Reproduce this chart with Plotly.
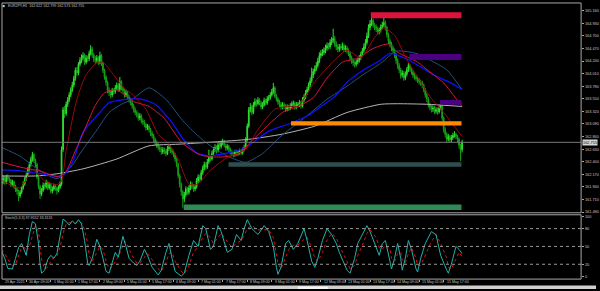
import plotly.graph_objects as go

# ---------------- data ----------------
symbol_text = "EURJPY,H1  162.622 162.799 162.573 162.755"
stoch_text = "Stoch(5,3,3) 37.9552 33.3131"

time_labels = ["29 Apr 2025", "30 Apr 09:00", "1 May 01:00", "1 May 17:00", "2 May 09:00",
               "5 May 01:00", "5 May 17:00", "6 May 09:00", "7 May 01:00", "7 May 17:00",
               "8 May 09:00", "9 May 01:00", "9 May 17:00", "12 May 09:00", "13 May 01:00",
               "13 May 17:00", "14 May 09:00", "15 May 01:00", "15 May 17:00"]
time_label_bars = [0, 16, 32, 48, 64, 80, 96, 112, 128, 144, 160, 176, 192, 208, 224, 240, 256, 272, 288]

price_ticks = [161.480, 161.710, 161.940, 162.170, 162.400, 162.630, 162.860, 163.090, 163.320,
               163.550, 163.780, 164.010, 164.240, 164.470, 164.700, 164.930, 165.160]
stoch_ticks = [0, 20, 50, 80, 100]
stoch_levels = [20, 50, 80]
bid_price = 162.755

first_open = 162.00
closes = [
    162.04, 162.10, 162.02, 162.12, 162.08, 162.06, 161.98, 162.03, 161.95, 161.90,
    161.86, 161.78, 161.84, 161.92, 161.99, 162.08, 162.15, 162.26, 162.35, 162.44,
    162.53, 162.42, 162.35, 162.12, 161.95, 161.81, 161.88, 161.97, 161.94, 162.02,
    161.92, 161.98, 161.86, 161.90, 161.95, 161.92, 161.87, 161.93, 161.99, 162.62,
    163.35, 163.28, 163.45, 163.53, 163.62, 163.71, 163.80, 163.92, 164.07, 164.02,
    164.18, 164.25, 164.30, 164.34, 164.22, 164.30, 164.28, 164.38, 164.46, 164.35,
    164.28, 164.25, 164.30, 164.22, 164.34, 164.20, 164.07, 163.95, 163.85, 163.71,
    163.66, 163.62, 163.70, 163.68, 163.75, 163.80, 163.72, 163.86, 163.74, 163.70,
    163.62, 163.66, 163.58, 163.53, 163.48, 163.42, 163.35, 163.30, 163.26, 163.20,
    163.24, 163.15, 163.12, 163.08, 163.02, 163.05, 162.99, 162.92, 162.88, 162.81,
    162.75, 162.70, 162.66, 162.63, 162.58, 162.62, 162.59, 162.55, 162.64, 162.66,
    162.60, 162.58, 162.53, 162.45, 162.35, 162.15, 161.99, 161.85, 161.72, 161.80,
    161.90, 161.84, 161.92, 161.99, 161.95, 161.90, 161.94, 162.05, 162.12, 162.08,
    162.20, 162.28, 162.35, 162.30, 162.40, 162.48, 162.45, 162.55, 162.62, 162.66,
    162.60, 162.71, 162.68, 162.74, 162.76, 162.70, 162.65, 162.68, 162.62, 162.58,
    162.55, 162.53, 162.58, 162.55, 162.57, 162.60, 162.56, 162.62, 162.66, 162.80,
    163.05, 163.35, 163.40, 163.30, 163.44, 163.50, 163.46, 163.53, 163.48, 163.40,
    163.44, 163.52, 163.47, 163.55, 163.57, 163.62, 163.68, 163.75, 163.60, 163.55,
    163.49, 163.45, 163.40, 163.44, 163.42, 163.36, 163.40, 163.38, 163.42, 163.45,
    163.47, 163.40, 163.44, 163.44, 163.48, 163.42, 163.53, 163.58, 163.66, 163.72,
    163.80, 163.88, 163.98, 164.05, 164.10, 164.16, 164.24, 164.34, 164.38, 164.40,
    164.43, 164.48, 164.52, 164.50, 164.58, 164.62, 164.65, 164.55, 164.50, 164.46,
    164.50, 164.48, 164.52, 164.45, 164.48, 164.43, 164.38, 164.30, 164.25, 164.21,
    164.18, 164.22, 164.25, 164.30, 164.36, 164.43, 164.50, 164.58, 164.70, 164.85,
    164.92, 164.98, 164.90, 164.86, 164.83, 164.78, 164.80, 164.86, 164.90, 164.94,
    164.85, 164.72, 164.61, 164.55, 164.48, 164.43, 164.35, 164.25, 164.16, 164.08,
    163.98, 164.02, 163.93, 164.00, 164.08, 164.16, 164.10, 164.04, 163.98, 163.95,
    163.92, 163.89, 163.86, 163.84, 163.80, 163.72, 163.62, 163.55, 163.44, 163.40,
    163.36, 163.38, 163.32, 163.35, 163.31, 163.38, 163.42, 163.20, 162.99, 162.90,
    162.81, 162.86, 162.80, 162.84, 162.88, 162.90, 162.86, 162.81, 162.70, 162.62,
    162.755]

highs = [
    162.09, 162.15, 162.14, 162.16, 162.17, 162.12, 162.09, 162.07, 162.06, 161.98,
    161.94, 161.89, 161.88, 161.96, 162.04, 162.12, 162.20, 162.30, 162.40, 162.49,
    162.58, 162.56, 162.46, 162.38, 162.15, 161.98, 161.92, 162.02, 162.01, 162.07,
    162.05, 162.03, 162.01, 161.95, 162.00, 161.99, 161.95, 161.97, 162.04, 162.68,
    163.40, 163.42, 163.50, 163.58, 163.67, 163.76, 163.86, 163.97, 164.12, 164.13,
    164.22, 164.31, 164.36, 164.40, 164.38, 164.35, 164.34, 164.43, 164.53, 164.50,
    164.39, 164.33, 164.35, 164.33, 164.41, 164.37, 164.23, 164.10, 163.98, 163.88,
    163.76, 163.70, 163.75, 163.74, 163.80, 163.85, 163.84, 163.95, 163.89, 163.78,
    163.73, 163.71, 163.69, 163.62, 163.57, 163.51, 163.46, 163.39, 163.34, 163.30,
    163.29, 163.27, 163.19, 163.16, 163.11, 163.09, 163.08, 163.02, 162.96, 162.91,
    162.84, 162.79, 162.74, 162.70, 162.67, 162.67, 162.66, 162.63, 162.69, 162.71,
    162.70, 162.64, 162.62, 162.56, 162.48, 162.38, 162.18, 162.02, 161.88, 161.85,
    161.95, 161.94, 161.97, 162.04, 162.03, 161.99, 161.99, 162.10, 162.17, 162.16,
    162.25, 162.33, 162.40, 162.39, 162.45, 162.62, 162.53, 162.60, 162.67, 162.72,
    162.70, 162.76, 162.75, 162.79, 162.82, 162.80, 162.73, 162.72, 162.71, 162.66,
    162.62, 162.59, 162.62, 162.62, 162.61, 162.64, 162.63, 162.66, 162.71, 162.85,
    163.10, 163.40, 163.47, 163.44, 163.49, 163.56, 163.54, 163.58, 163.56, 163.51,
    163.49, 163.57, 163.55, 163.60, 163.62, 163.67, 163.73, 163.84, 163.78, 163.64,
    163.58, 163.53, 163.49, 163.49, 163.48, 163.45, 163.45, 163.44, 163.47, 163.50,
    163.52, 163.50, 163.49, 163.49, 163.53, 163.51, 163.58, 163.63, 163.71, 163.77,
    163.85, 163.94, 164.12, 164.10, 164.16, 164.22, 164.30, 164.40, 164.44, 164.46,
    164.49, 164.54, 164.58, 164.57, 164.64, 164.68, 164.83, 164.70, 164.60, 164.55,
    164.55, 164.55, 164.58, 164.56, 164.53, 164.52, 164.47, 164.42, 164.34, 164.29,
    164.25, 164.27, 164.30, 164.35, 164.41, 164.48, 164.56, 164.64, 164.76, 164.91,
    164.99, 165.07, 165.02, 164.94, 164.91, 164.87, 164.85, 164.91, 164.96, 165.07,
    164.98, 164.88, 164.76, 164.65, 164.59, 164.52, 164.47, 164.39, 164.29, 164.20,
    164.12, 164.07, 164.06, 164.05, 164.13, 164.21, 164.19, 164.13, 164.07, 164.02,
    163.99, 163.96, 163.93, 163.90, 163.88, 163.83, 163.75, 163.66, 163.58, 163.48,
    163.44, 163.43, 163.42, 163.40, 163.39, 163.43, 163.49, 163.45, 163.23, 163.03,
    162.94, 162.91, 162.89, 162.89, 162.93, 162.96, 162.93, 162.89, 162.84, 162.73,
    162.80]

lows = [
    161.96, 162.00, 161.98, 161.99, 162.04, 162.01, 161.94, 161.95, 161.91, 161.85,
    161.80, 161.68, 161.74, 161.81, 161.89, 161.96, 162.05, 162.12, 162.22, 162.31,
    162.40, 162.38, 162.30, 162.08, 161.90, 161.72, 161.77, 161.85, 161.89, 161.91,
    161.88, 161.89, 161.82, 161.82, 161.87, 161.87, 161.80, 161.84, 161.90, 161.96,
    162.58, 163.20, 163.24, 163.40, 163.49, 163.58, 163.67, 163.76, 163.88, 163.97,
    163.98, 164.14, 164.20, 164.25, 164.17, 164.18, 164.22, 164.24, 164.34, 164.30,
    164.22, 164.18, 164.20, 164.17, 164.18, 164.15, 164.02, 163.90, 163.79, 163.65,
    163.60, 163.56, 163.58, 163.63, 163.64, 163.71, 163.68, 163.69, 163.70, 163.65,
    163.57, 163.58, 163.53, 163.48, 163.43, 163.37, 163.30, 163.25, 163.21, 163.15,
    163.16, 163.10, 163.07, 163.03, 162.97, 162.98, 162.94, 162.87, 162.83, 162.76,
    162.70, 162.65, 162.61, 162.58, 162.53, 162.54, 162.54, 162.50, 162.52, 162.60,
    162.56, 162.53, 162.48, 162.40, 162.30, 162.10, 161.93, 161.78, 161.56, 161.66,
    161.76, 161.79, 161.80, 161.88, 161.90, 161.85, 161.86, 161.91, 162.01, 162.03,
    162.05, 162.16, 162.24, 162.25, 162.27, 162.36, 162.40, 162.42, 162.51, 162.58,
    162.55, 162.57, 162.63, 162.64, 162.70, 162.66, 162.60, 162.61, 162.58, 162.53,
    162.50, 162.48, 162.49, 162.51, 162.51, 162.53, 162.52, 162.53, 162.59, 162.63,
    162.77, 163.02, 163.30, 163.25, 163.27, 163.40, 163.41, 163.43, 163.43, 163.35,
    163.36, 163.41, 163.43, 163.44, 163.51, 163.53, 163.59, 163.64, 163.56, 163.50,
    163.44, 163.40, 163.35, 163.36, 163.37, 163.31, 163.32, 163.33, 163.34, 163.38,
    163.41, 163.35, 163.36, 163.39, 163.40, 163.37, 163.39, 163.49, 163.54, 163.62,
    163.68, 163.76, 163.84, 163.93, 164.00, 164.06, 164.12, 164.20, 164.29, 164.33,
    164.35, 164.38, 164.43, 164.45, 164.46, 164.53, 164.57, 164.50, 164.44, 164.40,
    164.41, 164.43, 164.44, 164.40, 164.41, 164.38, 164.33, 164.25, 164.19, 164.15,
    164.12, 164.14, 164.18, 164.21, 164.26, 164.32, 164.39, 164.46, 164.54, 164.66,
    164.80, 164.88, 164.85, 164.80, 164.77, 164.72, 164.73, 164.76, 164.82, 164.86,
    164.80, 164.67, 164.55, 164.49, 164.42, 164.37, 164.29, 164.19, 164.10, 164.02,
    163.92, 163.94, 163.88, 163.89, 163.96, 164.04, 164.05, 163.99, 163.93, 163.90,
    163.87, 163.84, 163.81, 163.79, 163.75, 163.67, 163.57, 163.49, 163.39, 163.34,
    163.30, 163.31, 163.27, 163.28, 163.26, 163.28, 163.34, 163.15, 162.93, 162.84,
    162.76, 162.77, 162.75, 162.76, 162.80, 162.84, 162.81, 162.76, 162.64, 162.41,
    162.57]

# moving averages, read at sample bars
fast_ma_bars = [0, 12, 20, 28, 36, 39, 42, 49, 55, 62, 66, 72, 79, 85, 94, 102, 109, 115, 122, 128,
                135, 146, 159, 167, 178, 187, 193, 204, 217, 225, 234, 243, 249, 256, 264, 271, 279, 288, 300]
fast_ma = [162.06, 161.92, 162.25, 162.05, 161.98, 162.05, 162.60, 163.54, 163.99, 164.21, 164.22,
           164.02, 163.77, 163.63, 163.36, 162.90, 162.72, 162.45, 161.99, 161.99, 162.22, 162.46,
           162.63, 162.99, 163.36, 163.41, 163.41, 163.86, 164.26, 164.44, 164.30, 164.67, 164.84,
           164.71, 164.26, 163.95, 163.59, 163.30, 162.86]

slow_ma_bars = [0, 14, 25, 36, 41, 48, 55, 61, 67, 74, 80, 86, 96, 106, 117, 128, 135, 145, 154, 164,
                174, 184, 193, 203, 212, 222, 232, 242, 252, 258, 271, 279, 288, 294, 300]
slow_ma = [162.39, 162.29, 162.23, 162.13, 162.18, 162.60, 163.05, 163.43, 163.66, 163.72, 163.63,
           163.50, 163.41, 163.19, 162.76, 162.54, 162.49, 162.49, 162.54, 162.81, 163.08, 163.32,
           163.41, 163.57, 163.93, 164.22, 164.29, 164.47, 164.55, 164.40, 164.22, 164.04, 163.84,
           163.63, 163.41]

blue_ma_bars = [0, 13, 28, 37, 42, 47, 53, 64, 70, 81, 90, 100, 110, 120, 128, 136, 150, 159, 174, 187,
                200, 208, 217, 225, 236, 247, 253, 262, 272, 282, 292, 300]
blue_ma = [162.25, 162.23, 162.17, 162.13, 162.20, 162.45, 162.94, 163.30, 163.48, 163.54, 163.55,
           163.45, 163.15, 162.75, 162.55, 162.51, 162.58, 162.66, 162.96, 163.09, 163.25, 163.41,
           163.59, 163.85, 164.08, 164.26, 164.38, 164.30, 164.15, 163.98, 163.85, 163.72]

steel_ma_bars = [0, 12, 23, 36, 45, 53, 62, 70, 78, 85, 96, 107, 118, 128, 138, 148, 159, 170, 182, 195,
                 212, 225, 236, 247, 257, 270, 279, 290, 300]
steel_ma = [162.66, 162.50, 162.27, 162.09, 162.30, 162.63, 162.98, 163.30, 163.45, 163.54, 163.75,
            163.54, 163.15, 162.87, 162.65, 162.49, 162.39, 162.55, 162.87, 163.15, 163.54, 163.78,
            164.00, 164.20, 164.42, 164.38, 164.26, 164.08, 163.72]

gray_ma_bars = [0, 22, 36, 53, 75, 96, 115, 138, 161, 182, 204, 225, 247, 258, 277, 300]
gray_ma = [162.14, 162.14, 162.18, 162.27, 162.45, 162.69, 162.72, 162.76, 162.81, 162.90, 163.05,
           163.30, 163.45, 163.46, 163.45, 163.41]

# zones: start bar, end bar, low, high
zone_start = [240.5, 265.6, 285.6, 188.5, 147.8, 118.6]
zone_end = [299.6, 299.6, 299.6, 299.6, 299.6, 299.6]
zone_low = [165.02, 164.26, 163.44, 163.06, 162.31, 161.52]
zone_high = [165.13, 164.37, 163.53, 163.14, 162.39, 161.62]
zone_colors = ["#dc143c", "#4b0082", "#4b0082", "#ff8c00", "#2f4f4f", "#2e8b57"]

# stochastic (5,3,3)
stoch_bars = [0, 2, 4, 7, 9, 11, 13, 15, 16, 18, 20, 22, 24, 25, 26, 28, 30, 32, 34, 36, 38, 40, 42, 44,
              46, 48, 50, 52, 54, 56, 57, 59, 62, 64, 66, 68, 70, 72, 74, 76, 78, 79, 81, 83, 86, 88,
              90, 93, 95, 98, 102, 104, 107, 109, 111, 113, 117, 119, 122, 125, 128, 131, 133, 136,
              138, 141, 143, 147, 150, 153, 156, 158, 160, 163, 167, 171, 174, 177, 179, 180, 182,
              185, 187, 190, 193, 197, 199, 202, 204, 206, 209, 212, 215, 218, 220, 225, 227, 230,
              232, 235, 238, 240, 244, 246, 248, 250, 253, 254, 256, 258, 260, 261, 263, 265, 267,
              270, 271, 273, 276, 280, 283, 286, 290, 291, 293, 296, 298, 300]
stoch_main = [42, 30, 13, 12, 30, 48, 55, 40, 35, 70, 92, 88, 55, 20, 5, 10, 28, 35, 30, 38, 70, 96,
              92, 86, 93, 88, 95, 88, 60, 22, 18, 30, 62, 50, 30, 8, 5, 25, 40, 32, 60, 67, 50, 30,
              22, 18, 25, 45, 35, 15, 2, 10, 40, 55, 30, 8, 0, 5, 35, 60, 50, 85, 80, 45, 50, 85,
              75, 40, 45, 70, 60, 80, 95, 80, 70, 85, 75, 50, 15, 3, 15, 55, 60, 45, 55, 80, 60, 25,
              15, 30, 60, 80, 70, 55, 40, 10, 5, 30, 55, 70, 85, 75, 50, 35, 55, 60, 25, 12, 30, 55,
              30, 10, 30, 60, 45, 12, 7, 30, 55, 75, 70, 35, 10, 5, 20, 50, 45, 38]
stoch_signal = [45, 38, 28, 18, 20, 35, 48, 48, 42, 50, 70, 85, 75, 55, 28, 12, 15, 25, 32, 34, 48, 72,
                88, 90, 90, 89, 91, 90, 78, 55, 35, 25, 40, 50, 45, 25, 12, 15, 25, 33, 45, 55, 58,
                45, 30, 22, 22, 32, 38, 28, 12, 8, 22, 38, 40, 25, 8, 4, 18, 40, 50, 65, 72, 65, 55,
                65, 72, 58, 48, 55, 60, 68, 80, 85, 78, 78, 78, 65, 40, 22, 12, 30, 45, 52, 52, 62,
                65, 48, 30, 25, 40, 60, 72, 65, 52, 25, 12, 18, 35, 52, 72, 78, 65, 48, 45, 52, 45,
                30, 25, 38, 40, 28, 22, 38, 48, 30, 18, 18, 35, 58, 70, 55, 30, 15, 12, 28, 40, 33]

# ---------------- geometry ----------------
W, H = 600, 291
BAR0_PX, BAR_PX = 1.7, 1.545          # pixel of bar 0 and pixels per bar
PLOT_L, PLOT_R = 2, 585
MAIN_T, MAIN_B = 2, 214
SUB_T, SUB_B = 216, 281
PRICE_LO, PRICE_HI = 161.467, 165.301
STO_LO, STO_HI = -5, 103.3


def fx(px):
    return px / W


def fy(py):
    return (H - py) / H


def bar_of(px):
    return (px - BAR0_PX) / BAR_PX


bars = list(range(len(closes)))
opens = [first_open] + closes[:-1]

FONT = "Liberation Sans"
TXT = "#c4c4c4"
FS_SMALL = 3.6
FS_AXIS = 3.9

fig = go.Figure()

fig.add_trace(go.Candlestick(
    x=bars, open=opens, high=highs, low=lows, close=closes,
    increasing=dict(line=dict(color="#2ee02e", width=1), fillcolor="#2ee02e"),
    decreasing=dict(line=dict(color="#17a017", width=1), fillcolor="#17a017"),
    whiskerwidth=0, hoverinfo="skip", showlegend=False, xaxis="x", yaxis="y"))

ma_styles = [
    (gray_ma_bars, gray_ma, "#b4b4b4", 1),
    (steel_ma_bars, steel_ma, "#24507e", 1),
    (blue_ma_bars, blue_ma, "#1010ff", 1.3),
    (slow_ma_bars, slow_ma, "#dc143c", 1),
    (fast_ma_bars, fast_ma, "#9a0a0a", 1),
]
for xs, ys, col, w in ma_styles:
    fig.add_trace(go.Scatter(x=xs, y=ys, mode="lines",
                             line=dict(color=col, width=w, shape="spline", smoothing=0.6),
                             hoverinfo="skip", showlegend=False, xaxis="x", yaxis="y"))

fig.add_trace(go.Scatter(x=stoch_bars, y=stoch_signal, mode="lines",
                         line=dict(color="#e01010", width=1, dash="dot"),
                         hoverinfo="skip", showlegend=False, xaxis="x2", yaxis="y2"))
fig.add_trace(go.Scatter(x=stoch_bars, y=stoch_main, mode="lines",
                         line=dict(color="#20b2aa", width=1),
                         hoverinfo="skip", showlegend=False, xaxis="x2", yaxis="y2"))

shapes = []
# zones
for x0, x1, lo, hi, col in zip(zone_start, zone_end, zone_low, zone_high, zone_colors):
    shapes.append(dict(type="rect", xref="x", yref="y", x0=x0, x1=x1, y0=lo, y1=hi,
                       fillcolor=col, line=dict(width=0), layer="above"))
# bid line
shapes.append(dict(type="line", xref="paper", yref="y", x0=fx(PLOT_L), x1=fx(PLOT_R),
                   y0=bid_price, y1=bid_price, line=dict(color="#7a7a7a", width=1)))
# stochastic levels
for lv in stoch_levels:
    shapes.append(dict(type="line", xref="paper", yref="y2", x0=fx(PLOT_L), x1=fx(PLOT_R),
                       y0=lv, y1=lv, line=dict(color="#9a9a9a", width=1, dash="dot")))
# frames
for t, b in [(MAIN_T, MAIN_B), (SUB_T, SUB_B)]:
    shapes.append(dict(type="rect", xref="paper", yref="paper", x0=fx(PLOT_L), x1=fx(PLOT_R),
                       y0=fy(b), y1=fy(t), line=dict(color="#a8a8a8", width=1),
                       fillcolor="rgba(0,0,0,0)"))
# small icon near symbol text
shapes.append(dict(type="rect", xref="paper", yref="paper", x0=fx(2.7), x1=fx(4.7),
                   y0=fy(6.2), y1=fy(4.0), fillcolor="#c8c8c8", line=dict(width=0)))
# bottom status strip
shapes.append(dict(type="rect", xref="paper", yref="paper", x0=0, x1=1, y0=0, y1=fy(287.5),
                   fillcolor="#cfcfcf", line=dict(width=0)))
shapes.append(dict(type="rect", xref="paper", yref="paper", x0=fx(300), x1=fx(330), y0=0,
                   y1=fy(288.5), fillcolor="#f4f4f4", line=dict(width=0)))

annotations = [
    dict(text=symbol_text, xref="paper", yref="paper", x=fx(6.5), y=fy(5.2), xanchor="left",
         yanchor="middle", showarrow=False, font=dict(family=FONT, size=FS_SMALL, color=TXT)),
    dict(text=stoch_text, xref="paper", yref="paper", x=fx(3.5), y=fy(219.5), xanchor="left",
         yanchor="middle", showarrow=False, font=dict(family=FONT, size=FS_SMALL, color=TXT)),
    dict(text=f"{bid_price:.3f}", xref="paper", yref="y", x=fx(585.5), y=bid_price,
         xanchor="left", yanchor="middle", showarrow=False, bgcolor="#d6d6d6", borderpad=0,
         font=dict(family=FONT, size=FS_AXIS, color="#000000")),
]
for lab, b in zip(time_labels, time_label_bars):
    annotations.append(dict(text=lab, xref="x2", yref="paper", x=b + 0.6, y=fy(284),
                            xanchor="left", yanchor="middle", showarrow=False,
                            font=dict(family=FONT, size=FS_SMALL, color=TXT)))

x_range = [bar_of(PLOT_L), bar_of(PLOT_R)]

fig.update_layout(
    width=W, height=H, autosize=False,
    margin=dict(l=0, r=0, t=0, b=0, pad=0),
    paper_bgcolor="#000000", plot_bgcolor="#000000",
    showlegend=False,
    xaxis=dict(domain=[fx(PLOT_L), fx(PLOT_R)], range=x_range, anchor="y",
               showgrid=False, zeroline=False, showticklabels=False, ticks="",
               rangeslider=dict(visible=False), fixedrange=True),
    yaxis=dict(domain=[fy(MAIN_B), fy(MAIN_T)], range=[PRICE_LO, PRICE_HI], side="right",
               anchor="x", showgrid=False, zeroline=False,
               tickvals=price_ticks, ticktext=[f"{v:.3f}" for v in price_ticks],
               ticks="outside", ticklen=2, tickcolor="#a8a8a8",
               tickfont=dict(family=FONT, size=FS_AXIS, color=TXT)),
    xaxis2=dict(domain=[fx(PLOT_L), fx(PLOT_R)], range=x_range, anchor="y2", matches="x",
                showgrid=False, zeroline=False, showticklabels=False,
                tickvals=time_label_bars, ticks="outside", ticklen=2, tickcolor="#a8a8a8"),
    yaxis2=dict(domain=[fy(SUB_B), fy(SUB_T)], range=[STO_LO, STO_HI], side="right",
                anchor="x2", showgrid=False, zeroline=False,
                tickvals=stoch_ticks, ticktext=[str(v) for v in stoch_ticks],
                ticks="outside", ticklen=2, tickcolor="#a8a8a8",
                tickfont=dict(family=FONT, size=FS_AXIS, color=TXT)),
    shapes=shapes,
    annotations=annotations,
)

fig.write_html("out.html")
